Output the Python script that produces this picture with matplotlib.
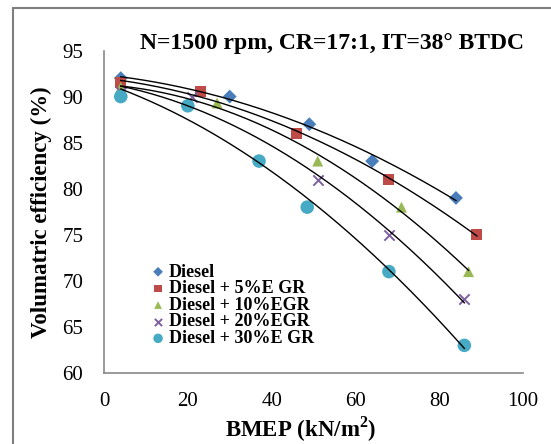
import numpy as np
import matplotlib
matplotlib.use("Agg")
import matplotlib.pyplot as plt
from matplotlib.patches import Rectangle

# ---- data ----
labels = ["Diesel", "Diesel + 5%E GR", "Diesel + 10%EGR", "Diesel + 20%EGR", "Diesel + 30%E GR"]
x_diesel = [4, 30, 49, 64, 84]
y_diesel = [92, 90, 87, 83, 79]
x_egr5 = [4, 23, 46, 68, 89]
y_egr5 = [91.5, 90.5, 86, 81, 75]
x_egr10 = [4, 27, 51, 71, 87]
y_egr10 = [91, 89.3, 83, 78, 71]
x_egr20 = [4, 21, 51, 68, 86]
y_egr20 = [90.5, 90, 81, 75, 68]
x_egr30 = [4, 20, 37, 48.5, 68, 86]
y_egr30 = [90, 89, 83, 78, 71, 63]

title = "N=1500 rpm, CR=17:1, IT=38° BTDC"
xlabel = "BMEP (kN/m$^\\mathbf{2}$)"
ylabel = "Volumatric efficiency (%)"
xticks = [0, 20, 40, 60, 80, 100]
yticks = [60, 65, 70, 75, 80, 85, 90, 95]

series = [(x_diesel, y_diesel), (x_egr5, y_egr5), (x_egr10, y_egr10),
          (x_egr20, y_egr20), (x_egr30, y_egr30)]
styles = [
    dict(marker="D", color="#4A7EBB", s=50),
    dict(marker="s", color="#BE4B48", s=62),
    dict(marker="^", color="#98B954", s=62),
    dict(marker="x", color="#7D60A0", s=55, linewidths=1.4),
    dict(marker="o", color="#46AAC5", s=95),
]

plt.rcParams["font.family"] = ["Liberation Serif", "DejaVu Serif"]
plt.rcParams["mathtext.fontset"] = "custom"
plt.rcParams["mathtext.rm"] = "Liberation Serif"
plt.rcParams["mathtext.bf"] = "Liberation Serif:bold"

fig = plt.figure(figsize=(5.51, 4.44), dpi=100)
ax = fig.add_axes([104/551, 1-373/444, (523-104)/551, (373-50.5)/444])

for (xs, ys), st, lab in zip(series, styles, labels):
    kw = dict(st)
    s = kw.pop("s")
    if kw["marker"] != "x":
        kw["edgecolors"] = "none"
    ax.scatter(xs, ys, s=s, label=lab, zorder=3, **kw)
    c = np.polyfit(xs, ys, 2)
    xx = np.linspace(min(xs), max(xs), 200)
    ax.plot(xx, np.polyval(c, xx), color="black", lw=1.0, zorder=4)

ax.set_xlim(0, 100)
ax.set_ylim(60, 95)
ax.set_xticks(xticks)
ax.set_yticks(yticks)
ax.tick_params(axis="x", length=0, labelsize=15, pad=14)
ax.tick_params(axis="y", length=0, labelsize=15, pad=15)
for side in ["top", "right"]:
    ax.spines[side].set_visible(False)
for side in ["left", "bottom"]:
    ax.spines[side].set_color("#898989")
    ax.spines[side].set_linewidth(1.2)

ax.set_xlabel(xlabel, fontsize=16.5, fontweight="bold")
ax.set_ylabel(ylabel, fontsize=16.5, fontweight="bold")
ax.xaxis.set_label_coords(0.47, (373-429)/322.5)
ax.yaxis.set_label_coords((41-104)/419, 0.5)
ax.xaxis.label.set_va("center")
ax.yaxis.label.set_va("center")

fig.text(332/551, 1-43/444, title, ha="center", va="center", fontsize=17, fontweight="bold")

leg = ax.legend(loc="upper left", bbox_to_anchor=((140-104)/419, (373-254.5)/322.5), frameon=False,
                prop=dict(weight="bold", size=13), handletextpad=0.1, labelspacing=-0.02,
                borderpad=0, handlelength=1.0, markerscale=0.7)

fig.add_artist(Rectangle((13/551, -0.05), 1.0, 1 - 8/444 + 0.05, transform=fig.transFigure,
                         fill=False, edgecolor="#7f7f7f", lw=1.5))

fig.savefig("out.png", dpi=100)
